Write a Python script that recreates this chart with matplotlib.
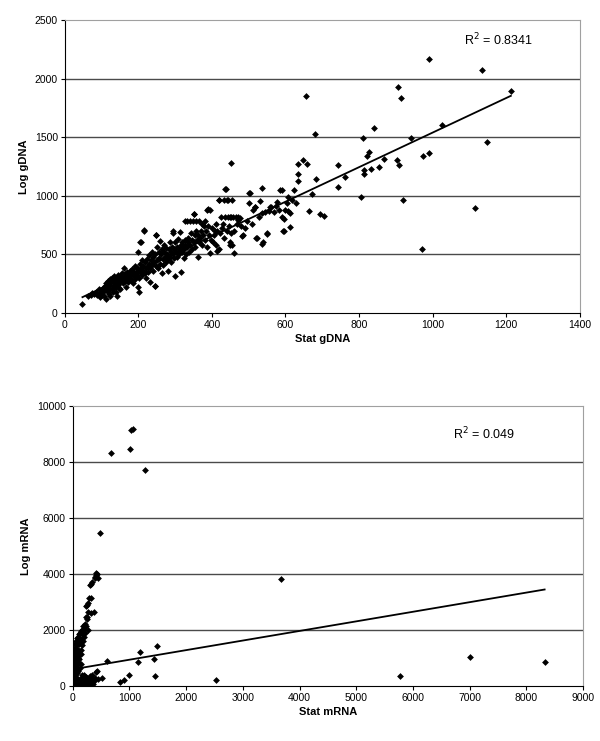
import numpy as np
import matplotlib
matplotlib.use("Agg")
import matplotlib.pyplot as plt

plt.rcParams['font.family'] = ['Liberation Sans', 'DejaVu Sans']

# Top panel: gDNA
gdna_pts = [
    # x 60-120
    (62,140),(70,150),(75,165),(80,160),(85,180),(88,150),(92,200),(95,170),(98,190),(100,155),
    (103,210),(105,175),(108,230),(110,200),(112,120),(113,250),(115,185),(117,220),(118,270),(120,160),(120,240),
    (96,130),(106,145),(124,140),(132,205),(139,175),(147,215),
    # x 120-180
    (122,290),(124,200),(126,260),(128,300),(130,230),(131,180),(133,280),(135,310),(136,250),(138,220),
    (140,300),(141,145),(143,270),(145,320),(146,240),(148,290),(150,260),(151,200),(153,310),(155,280),
    (156,340),(158,250),(160,300),(161,380),(163,270),(165,330),(166,220),(168,290),(170,350),(171,310),
    (173,260),(175,340),(176,300),(178,360),(180,280),
    # x 180-250
    (182,330),(184,370),(185,250),(187,310),(189,350),(190,400),(192,290),(194,340),(195,380),(197,320),
    (198,520),(200,360),(201,175),(203,300),(204,420),(206,340),(207,600),(208,380),(210,320),(211,450),
    (213,360),(214,400),(216,700),(217,340),(219,430),(220,380),(222,300),(223,460),(225,400),(226,350),
    (228,490),(230,420),(231,260),(233,380),(235,450),(236,520),(238,410),(240,360),(241,480),(243,430),
    (244,230),(246,500),(247,660),(249,400),(250,560),
    # x 250-330
    (252,450),(254,380),(255,520),(257,470),(258,610),(260,420),(262,500),(263,340),(265,540),(266,460),
    (268,410),(270,520),(271,580),(273,480),(275,430),(276,550),(278,500),(280,360),(281,460),(283,540),
    (285,600),(286,480),(288,520),(290,430),(291,560),(293,500),(295,680),(296,470),(298,540),(300,600),
    (301,310),(303,520),(305,480),(306,560),(308,630),(310,500),(311,540),(313,690),(315,350),(316,580),
    (318,520),(320,600),(321,560),(323,470),(325,540),(326,620),(328,580),(330,500),
    # x 330-460
    (331,780),(333,560),(335,640),(336,600),(338,520),(340,580),(341,780),(343,680),(345,540),(346,620),
    (348,780),(350,600),(352,840),(353,660),(355,560),(356,780),(358,700),(360,620),(362,480),(363,660),
    (365,780),(366,600),(368,640),(370,700),(372,580),(373,760),(375,660),(378,740),(380,620),(382,780),
    (384,700),(386,560),(388,880),(390,740),(392,660),(394,880),(396,510),(398,620),(400,720),(403,600),
    (405,660),(408,700),(410,580),(412,760),(415,700),(418,960),(420,540),(422,680),(425,820),(428,720),
    (430,760),(432,960),(434,640),(436,820),(438,1055),(440,700),(442,960),(444,820),(446,740),(448,600),
    (450,820),(452,680),(455,960),(456,580),(458,820),(460,700),
    # x 460-640
    (465,820),(468,760),(472,790),(476,810),(480,740),(485,660),(490,720),(495,780),(500,940),(505,1020),
    (508,760),(512,880),(518,900),(522,640),(528,820),(535,850),(540,600),(545,860),(550,680),(556,870),
    (562,900),(570,860),(575,910),(582,880),(586,1045),(590,820),(596,700),(600,880),(605,940),(612,850),
    (618,960),(622,1050),(628,940),
    # scattered / outliers
    (990,2165),(1135,2075),(1213,1890),(905,1925),(915,1838),(656,1850),(681,1526),(1148,1457),
    (1025,1605),(942,1491),(810,1491),(840,1580),(974,1338),(991,1366),(904,1304),(908,1264),
    (823,1338),(828,1369),(869,1310),(834,1227),(813,1219),(813,1185),(855,1241),(742,1264),
    (762,1156),(742,1077),(805,986),(921,966),(1115,895),(971,545),(634,1270),(660,1270),
    (649,1304),(634,1185),(634,1122),(683,1142),(673,1014),(664,872),(695,844),(705,824),
    (608,872),(608,986),(590,1051),(537,1065),(502,1023),(451,1278),(437,1057),(420,963),
    (443,963),(470,815),(452,815),(516,900),(532,957),(577,943),(559,900),(596,801),(612,730),
    (593,696),(551,673),(535,588),(519,639),(481,659),(461,511),(449,574),(414,531),(352,844),
    (389,886),(326,787),(294,702),(216,707),(247,665),(204,602),(199,219),(244,227),(48,71),
]
gdna_x = [p[0] for p in gdna_pts]
gdna_y = [p[1] for p in gdna_pts]
gdna_slope, gdna_icpt = 1.476, 62
gdna_r2 = "0.8341"

# Bottom panel: mRNA
mrna_pts = [
    (430,4000),(420,4050),(410,3950),(400,3850),(390,3900),(440,3850),(350,3700),(330,3650),(310,3600),
    (320,3150),(290,3150),(280,2950),(260,2900),(240,2850),(270,2650),(330,2600),(380,2650),(230,2450),
    (250,2400),(210,2200),(180,2150),(200,2050),(280,2000),(170,2000),(150,1950),(190,1850),(130,1900),
    (110,1850),(100,1750),(160,1700),(140,1650),(80,1700),(60,1600),(90,1550),(120,1500),(40,1500),
    (70,1450),(50,1350),(100,1300),(30,1250),(80,1200),(60,1150),(120,1100),(20,1100),(40,1000),
    (90,1000),(70,950),(10,900),(50,850),(30,800),(100,850),(80,750),(20,700),(60,650),(40,600),
    (10,550),(90,550),(30,500),(70,450),(50,400),(15,350),(40,300),(80,280),(20,250),(60,200),
    (30,150),(10,100),(50,80),(90,120),(120,60),(150,100),(180,50),(200,150),(220,80),(250,120),
    (280,60),(300,200),(330,120),(350,250),(380,180),(300,350),(260,280),(240,220),(400,300),
    (450,260),(420,500),(350,400),(200,400),(170,300),(130,250),
    (160,1450),(180,1600),(140,1300),(200,1750),(120,1250),(150,1150),(110,950),(140,800),(130,650),
    (230,2150),(260,2450),(220,1900),(160,400),(240,320),(270,150),(310,80),(360,60),(200,30),
    (1059,9188),(1024,9142),(1004,8469),(683,8318),(1277,7703),(485,5452),(3675,3805),(7001,1021),
    (8320,870),(5765,371),(2527,209),(1496,1415),(1455,348),(1441,963),(1195,1218),(1161,870),
    (997,383),(908,232),(827,139),(615,905),(512,290),(430,522),
]
mrna_x = [p[0] for p in mrna_pts]
mrna_y = [p[1] for p in mrna_pts]
mrna_slope, mrna_icpt = 0.3425, 596
mrna_r2 = "0.049"

fig = plt.figure(figsize=(6, 7.41), dpi=100)


def panel(ax, x, y, slope, icpt, r2, xmax, ymax, xstep, ystep, xlabel, ylabel, r2pos):
    ax.set_xlim(0, xmax)
    ax.set_ylim(0, ymax)
    ax.set_xticks(np.arange(0, xmax + 1, xstep))
    ax.set_yticks(np.arange(0, ymax + 1, ystep))
    for v in np.arange(ystep, ymax, ystep):
        ax.axhline(v, color='#4a4a4a', lw=1.0, zorder=1)
    ax.scatter(x, y, marker='D', s=12, color='black', lw=0, zorder=3)
    xs = np.array([min(x), max(x)])
    ax.plot(xs, slope * xs + icpt, color='black', lw=1.3, zorder=4)
    for s in ['top', 'right']:
        ax.spines[s].set_color('#a0a0a0')
    for s in ['left', 'bottom']:
        ax.spines[s].set_color('black')
    ax.tick_params(direction='out', length=3, labelsize=7.5, colors='black', pad=2)
    ax.set_xlabel(xlabel, fontsize=8, fontweight='bold', labelpad=3)
    ax.set_ylabel(ylabel, fontsize=8, fontweight='bold', labelpad=4)
    ax.text(r2pos[0], r2pos[1], "R$^2$ = " + r2, transform=ax.transAxes, fontsize=9)


ax1 = fig.add_axes([0.108, 0.578, 0.858, 0.395])
panel(ax1, gdna_x, gdna_y, gdna_slope, gdna_icpt, gdna_r2, 1400, 2500, 200, 500,
      'Stat gDNA', 'Log gDNA', (0.775, 0.915))

ax2 = fig.add_axes([0.121, 0.0742, 0.851, 0.378])
panel(ax2, mrna_x, mrna_y, mrna_slope, mrna_icpt, mrna_r2, 9000, 10000, 1000, 2000,
      'Stat mRNA', 'Log mRNA', (0.745, 0.88))

fig.savefig("out.png", dpi=100)
